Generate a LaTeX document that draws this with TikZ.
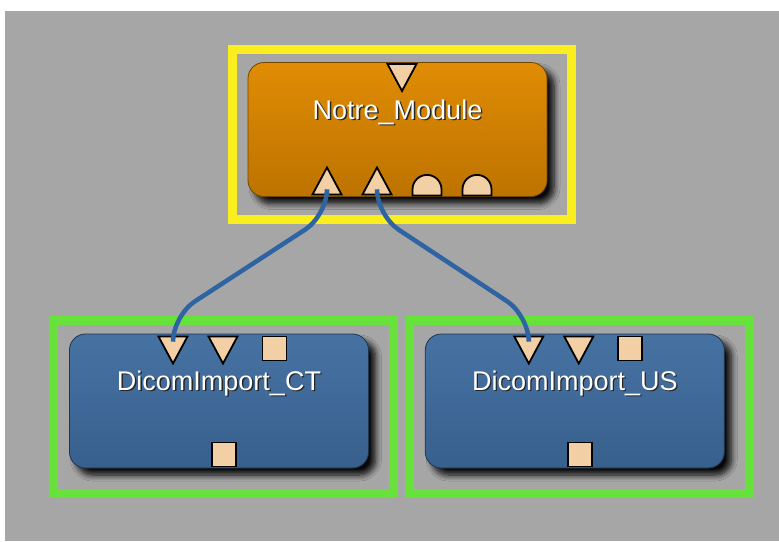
\documentclass[tikz,border=0pt]{standalone}
\usepackage{fontspec}
\setmainfont{Liberation Sans}
\usepackage{xcolor}
\usetikzlibrary{positioning, shapes.geometric, shadows.blur}
\definecolor{netGray}{HTML}{A6A6A6}
\definecolor{selYellow}{HTML}{FBEE1F}
\definecolor{selGreen}{HTML}{66E23A}
\definecolor{modOrangeTop}{HTML}{E08C04}
\definecolor{modOrangeBot}{HTML}{BD7300}
\definecolor{modBlueTop}{HTML}{4672A2}
\definecolor{modBlueBot}{HTML}{38608D}
\definecolor{portFill}{HTML}{F2CFA4}
\definecolor{wireBlue}{HTML}{2F64A2}

% white title with a dark drop under it
\newcommand\lbltext[1]{\makebox[0pt][l]{\hspace{1.3pt}\raisebox{-1.3pt}{\color{black!85}#1}}#1}

\begin{document}
\begin{tikzpicture}[x=1pt, y=-1pt,
    module/.style={rounded corners=16pt, minimum width=299pt, minimum height=134pt,
      line width=0.8pt, blur shadow={shadow xshift=7pt, shadow yshift=-7pt,
      shadow blur steps=8, shadow blur radius=6pt, shadow opacity=95}},
    orangemod/.style={module, draw=modOrangeBot!60!black, top color=modOrangeTop, bottom color=modOrangeBot},
    bluemod/.style={module, draw=modBlueBot!55!black, top color=modBlueTop, bottom color=modBlueBot},
    modtitle/.style={text=white, font=\fontsize{27}{32}\selectfont, inner sep=0pt},
    port/.style={draw=black, fill=portFill, line width=1.8pt, inner sep=0pt},
    triport/.style={port, isosceles triangle, isosceles triangle stretches,
      minimum width=29pt, minimum height=27pt, anchor=west},
    inport/.style={triport, rotate=-90},
    outport/.style={triport, rotate=90},
    sqport/.style={port, rectangle, minimum size=24pt},
    wire/.style={wireBlue, line width=4.5pt, rounded corners=26pt},
    selframe/.style={line width=9pt}]
  \useasboundingbox (0,0) rectangle (779,541);
  \fill[netGray] (5,11) rectangle (779,541);

  % modules
  \node[orangemod] (mod) at (397.5,129.5) {};
  \node[bluemod] (ct) at (219,401) {};
  \node[bluemod, right=56pt of ct] (us) {};

  \node[modtitle] (modname) at ([yshift=16.5pt]mod.center) {\lbltext{Notre\_Module}};
  \node[modtitle] (ctname) at ([yshift=17pt]ct.center) {\lbltext{DicomImport\_CT}};
  \node[modtitle] (usname) at ([yshift=17pt]us.center) {\lbltext{DicomImport\_US}};

  % selection frames
  \draw[selframe, selYellow] ([xshift=-15.5pt, yshift=12.5pt]mod.north west)
    rectangle ([xshift=24.5pt, yshift=-23pt]mod.south east);
  \draw[selframe, selGreen] ([xshift=-15.5pt, yshift=13.5pt]ct.north west)
    rectangle ([xshift=24.5pt, yshift=-25pt]ct.south east);
  \draw[selframe, selGreen] ([xshift=-15.5pt, yshift=13.5pt]us.north west)
    rectangle ([xshift=24.5pt, yshift=-25pt]us.south east);

  % ports of Notre_Module
  \node[inport] (modin) at ([xshift=4.5pt, yshift=-1pt]mod.north) {};
  \node[outport] (modout1) at ([xshift=-70.5pt, yshift=1.5pt]mod.south) {};
  \node[outport] (modout2) at ([xshift=-20.5pt, yshift=1.5pt]mod.south) {};
  \coordinate (modbase1) at ([xshift=29.5pt, yshift=1.5pt]mod.south);
  \coordinate (modbase2) at ([xshift=79.5pt, yshift=1.5pt]mod.south);
  \foreach \b in {modbase1, modbase2}
    \draw[port] (\b) ++(-14.5,0) -- ++(0,-6)
      arc[start angle=180, end angle=360, radius=14.5] -- ++(0,6) -- cycle;

  % ports of the two importers
  \foreach \m in {ct, us} {
    \node[inport] (\m in1) at ([xshift=-46pt, yshift=-2pt]\m.north) {};
    \node[inport] (\m in2) at ([xshift=4pt, yshift=-2pt]\m.north) {};
    \node[sqport, anchor=north] (\m cfg) at ([xshift=55.5pt, yshift=-2pt]\m.north) {};
    \node[sqport, anchor=south] (\m out) at ([xshift=5pt, yshift=1pt]\m.south) {};
  }

  % connections
  \draw[wire] (modout1.west) -- ++(0,20) -- ([yshift=20pt]ctin1.west) -- (ctin1.west);
  \draw[wire] (modout2.west) -- ++(0,20) -- ([yshift=20pt]usin1.west) -- (usin1.west);
\end{tikzpicture}
\end{document}
